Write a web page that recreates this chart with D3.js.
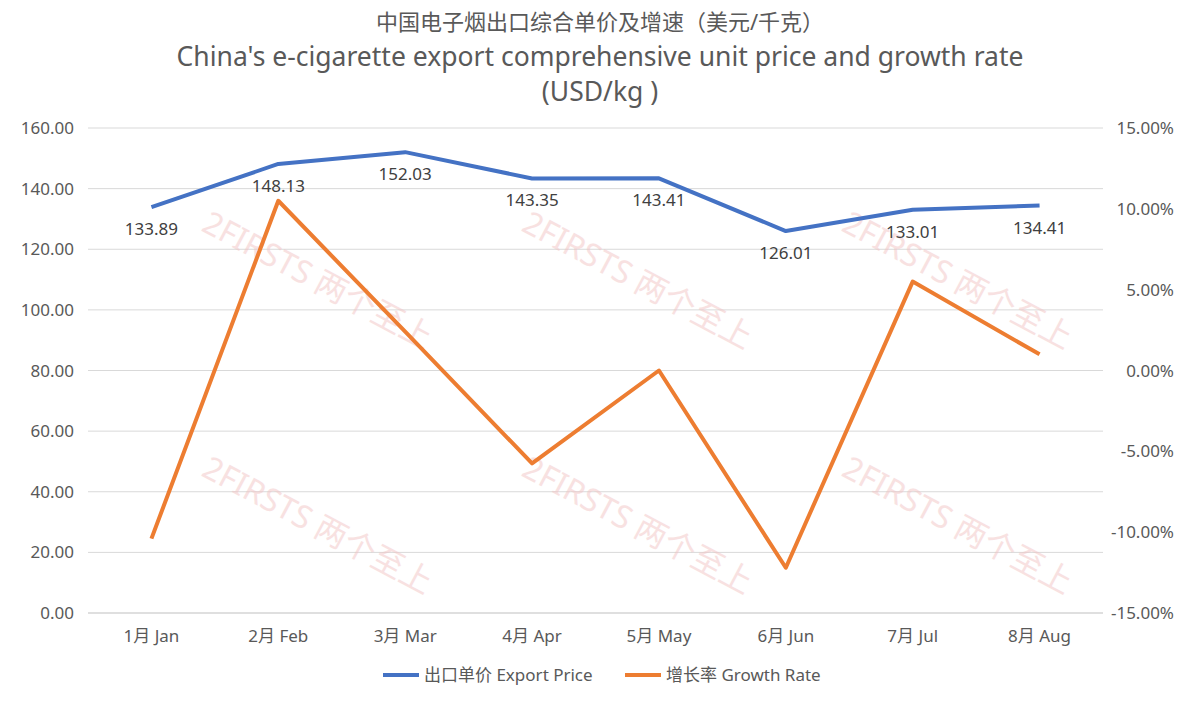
<!DOCTYPE html>
<html>
<head>
<meta charset="utf-8">
<script src="https://cdn.jsdelivr.net/npm/d3@7/dist/d3.min.js"></script>
<style>
  body { margin: 0; background: #fff; font-family: "Noto Sans", "Noto Sans CJK SC", sans-serif; }
</style>
</head>
<body>
<div id="chart"></div>
<script>
// data
var categories = ["1月 Jan", "2月 Feb", "3月 Mar", "4月 Apr", "5月 May", "6月 Jun", "7月 Jul", "8月 Aug"];
var exportPrice = [133.89, 148.13, 152.03, 143.35, 143.41, 126.01, 133.01, 134.41];
var growthRate = [-10.4, 10.5, 2.4, -5.75, 0.0, -12.2, 5.5, 1.0];
var leftTicks = [0, 20, 40, 60, 80, 100, 120, 140, 160];
var rightTicks = [-15, -10, -5, 0, 5, 10, 15];

var width = 1200, height = 701;
var margin = { top: 128, right: 97, bottom: 88, left: 88 };

var svg = d3.select("#chart").append("svg")
    .attr("width", width).attr("height", height);

var x = d3.scaleBand().domain(categories).range([margin.left, width - margin.right]);
var yL = d3.scaleLinear().domain([0, 160]).range([height - margin.bottom, margin.top]);
var yR = d3.scaleLinear().domain([-15, 15]).range([height - margin.bottom, margin.top]);

// title
var title = svg.append("text").attr("text-anchor", "middle").attr("fill", "#595959");
title.append("tspan").attr("x", 600).attr("y", 30).attr("font-size", 22).text("中国电子烟出口综合单价及增速（美元/千克）");
title.append("tspan").attr("x", 600).attr("y", 66).attr("font-size", 26.5).text("China's e-cigarette export comprehensive unit price and growth rate");
title.append("tspan").attr("x", 600).attr("y", 101).attr("font-size", 26.5).text("(USD/kg )");

// gridlines
svg.append("g").selectAll("line").data(leftTicks).enter().append("line")
    .attr("x1", margin.left).attr("x2", width - margin.right)
    .attr("y1", function(d) { return yL(d); }).attr("y2", function(d) { return yL(d); })
    .attr("stroke", function(d) { return d === 0 ? "#bfbfbf" : "#d9d9d9"; });

// watermark (faint)
var wm = [[130, 210], [450, 210], [770, 210], [130, 455], [450, 455], [770, 455]];
svg.append("g").selectAll("text").data(wm).enter().append("text")
    .attr("transform", function(d) { return "translate(" + (d[0] + 70) + "," + (d[1] + 20) + ") rotate(28)"; })
    .attr("font-size", 32).attr("fill", "#f2c4c4").attr("opacity", 0.5)
    .text("2FIRSTS 两个至上");

// left axis labels
svg.append("g").selectAll("text").data(leftTicks).enter().append("text")
    .attr("x", 74).attr("y", function(d) { return yL(d) + 6; })
    .attr("text-anchor", "end").attr("font-size", 17).attr("fill", "#595959")
    .text(function(d) { return d.toFixed(2); });

// right axis labels
svg.append("g").selectAll("text").data(rightTicks).enter().append("text")
    .attr("x", 1174).attr("y", function(d) { return yR(d) + 6; })
    .attr("text-anchor", "end").attr("font-size", 17).attr("fill", "#595959")
    .text(function(d) { return d.toFixed(2) + "%"; });

// x axis labels
svg.append("g").selectAll("text").data(categories).enter().append("text")
    .attr("x", function(d) { return x(d) + x.bandwidth() / 2; }).attr("y", 642)
    .attr("text-anchor", "middle").attr("font-size", 17).attr("fill", "#595959")
    .text(function(d) { return d; });

var cx = function(d, i) { return x(categories[i]) + x.bandwidth() / 2; };

svg.append("path").datum(growthRate)
    .attr("fill", "none").attr("stroke", "#ed7d31").attr("stroke-width", 4).attr("stroke-linejoin", "round")
    .attr("d", d3.line().x(cx).y(function(d) { return yR(d); }));

svg.append("path").datum(exportPrice)
    .attr("fill", "none").attr("stroke", "#4472c4").attr("stroke-width", 4).attr("stroke-linejoin", "round")
    .attr("d", d3.line().x(cx).y(function(d) { return yL(d); }));

// price labels
svg.append("g").selectAll("text").data(exportPrice).enter().append("text")
    .attr("x", cx).attr("y", function(d) { return yL(d) + 28; })
    .attr("text-anchor", "middle").attr("font-size", 17).attr("fill", "#404040")
    .text(function(d) { return d.toFixed(2); });

// legend
var legend = [["出口单价 Export Price", "#4472c4", 383], ["增长率 Growth Rate", "#ed7d31", 625]];
var lg = svg.append("g").selectAll("g").data(legend).enter().append("g");
lg.append("line").attr("x1", function(d) { return d[2]; }).attr("x2", function(d) { return d[2] + 36; })
    .attr("y1", 675).attr("y2", 675).attr("stroke", function(d) { return d[1]; }).attr("stroke-width", 4);
lg.append("text").attr("x", function(d) { return d[2] + 41; }).attr("y", 681)
    .attr("font-size", 17).attr("fill", "#595959").text(function(d) { return d[0]; });
</script>
</body>
</html>
